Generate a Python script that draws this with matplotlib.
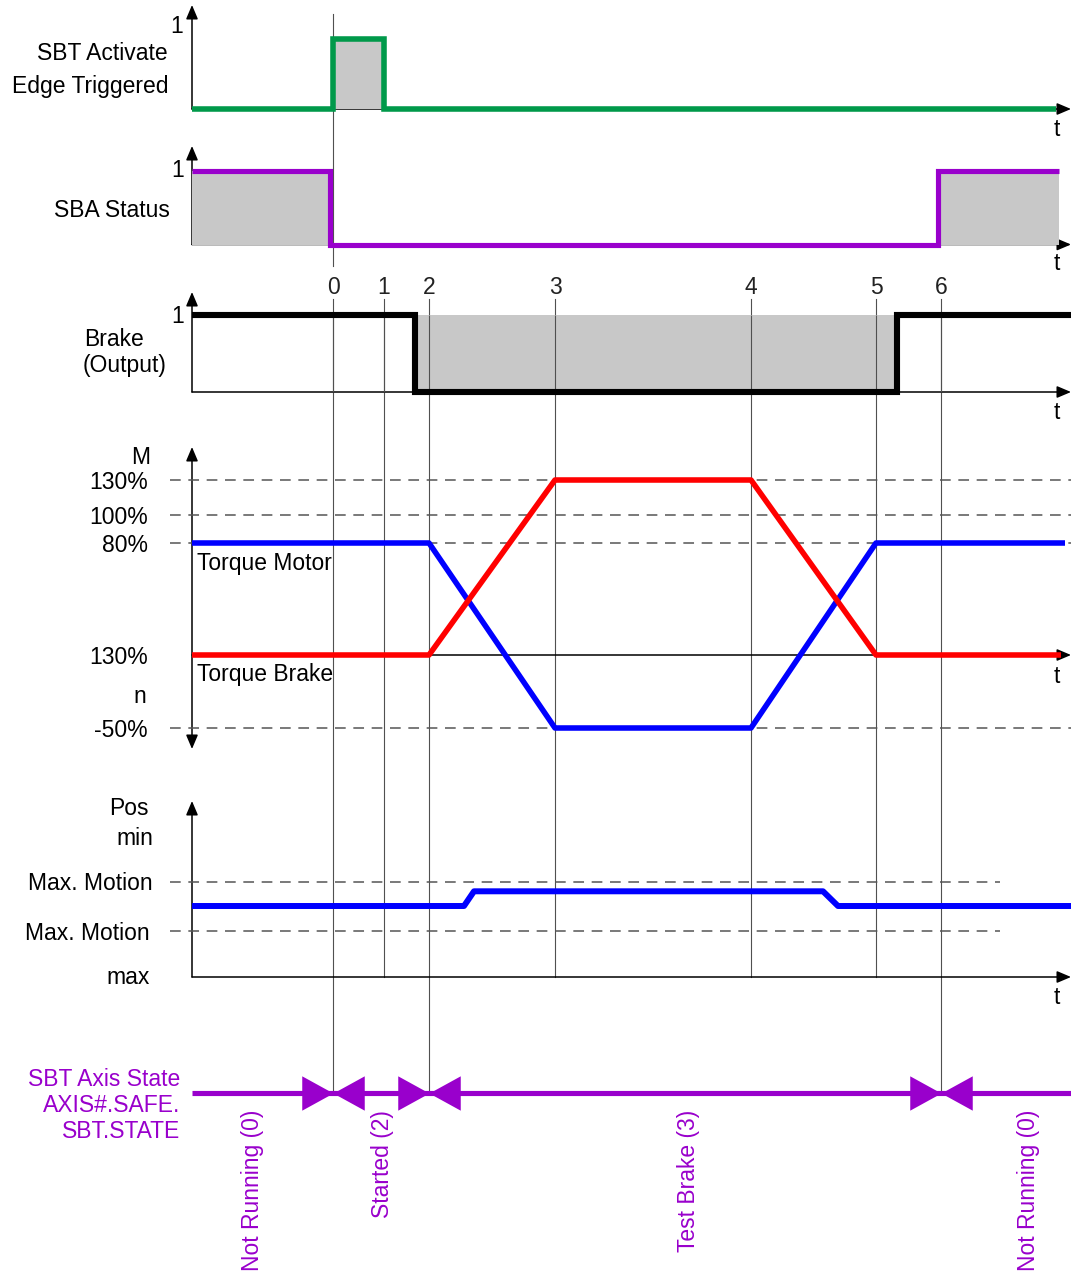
import numpy as np
import matplotlib
matplotlib.use('Agg')
import matplotlib.pyplot as plt

plt.rcParams['font.family'] = ['Liberation Sans', 'DejaVu Sans']

# ---------------- data ----------------
event_labels = ['0', '1', '2', '3', '4', '5', '6']
event_times = [14.1, 19.2, 23.7, 36.3, 55.9, 68.4, 74.9]

sbt_t = [0, 14.1, 19.2, 86.4]
sbt_v = [0, 1, 0, 0]

sba_t = [0, 13.8, 74.6, 86.7]
sba_v = [1, 0, 1, 1]

brake_t = [0, 22.3, 70.5, 87.9]
brake_v = [1, 0, 1, 1]

motor_t = [0, 23.7, 36.3, 55.9, 68.4, 87.3]
motor_v = [80, 80, -50, -50, 80, 80]
brake_tq_t = [0, 23.7, 36.3, 55.9, 68.4, 86.9]
brake_tq_v = [0, 0, 130, 130, 0, 0]
torque_levels = [130, 100, 80, -50]
torque_level_labels = ['130%', '100%', '80%', '-50%']
torque_zero_label = '130%'

pos_t = [0, 27.2, 28.2, 63.1, 64.6, 87.9]
pos_v = [0, 0, 0.6, 0.6, 0, 0]
pos_limits = [1, -1]
pos_limit_end = 80.8

state_bounds = [14.1, 23.7, 74.9]
state_names = ['Not Running (0)', 'Started (2)', 'Test Brake (3)', 'Not Running (0)']

# ---------------- style / layout ----------------
W, H = 1071, 1274
FS = 16.5
GREEN = '#00994a'
PURPLE = '#9900cc'
BLUE = '#0000ff'
RED = '#ff0000'
GRAY = '#c8c8c8'
EVC = '#505050'
XLIM = (-19.2, 87.9)
DASH = (0, (7.0, 5.0))
VA = 'center_baseline'

fig = plt.figure(figsize=(W / 100, H / 100), dpi=100)

bg = fig.add_axes([0, 0, 1, 1])
bg.set_xlim(*XLIM)
bg.set_ylim(H, 0)
bg.axis('off')


def panel(top, bottom, v0, p0, v1, p1):
    ax = fig.add_axes([0, 1 - bottom / H, 1, (bottom - top) / H])
    ax.set_xlim(*XLIM)
    s = (p0 - p1) / (v1 - v0)
    ax.set_ylim(v0 - (bottom - p0) / s, v0 + (p0 - top) / s)
    ax.axis('off')
    return ax


def axis_arrow(x0, y0, x1, y1, both=False):
    style = '<|-|>' if both else '-|>'
    bg.annotate('', xy=(x1, y1), xytext=(x0, y0),
                arrowprops=dict(arrowstyle=style + ',head_length=0.85,head_width=0.36',
                                mutation_scale=10, lw=1.1, color='black',
                                shrinkA=0, shrinkB=0), zorder=2)


def txt(x_px, y_px, s, ha='right', color='black', **kw):
    bg.text((x_px - 192) / 10, y_px, s, ha=ha, va=VA, fontsize=FS,
            color=color, **kw)


# ---------------- event lines ----------------
for t in event_times:
    end = 1093 if t in state_bounds else 977
    bg.plot([t, t], [299, end], color=EVC, lw=0.8, zorder=1)
bg.plot([event_times[0]] * 2, [14, 266], color=EVC, lw=0.8, zorder=1)
for t, lab in zip(event_times, event_labels):
    bg.text(t, 285, lab, ha='center', va=VA, fontsize=FS, color='#222222')

# ---------------- axes arrows ----------------
axis_arrow(0, 109, 0, 5)
axis_arrow(0, 109, XLIM[1], 109)
axis_arrow(0, 244.5, 0, 146)
axis_arrow(0, 244.5, XLIM[1], 244.5)
axis_arrow(0, 392, 0, 292)
axis_arrow(0, 392, XLIM[1], 392)
axis_arrow(0, 749, 0, 447, both=True)
axis_arrow(0, 655, XLIM[1], 655)
axis_arrow(0, 977, 0, 801)
axis_arrow(0, 977, XLIM[1], 977)
for y in [127, 261, 410, 674, 995]:
    txt(1057, y, 't', ha='center')

# ---------------- panel 1: SBT activate ----------------
ax1 = panel(0, 140, 0, 109, 1, 38.5)
ax1.fill_between(sbt_t, 0, sbt_v, step='post', color=GRAY, lw=0, zorder=1)
ax1.plot(sbt_t, sbt_v, drawstyle='steps-post', color=GREEN, lw=4.0,
         solid_joinstyle='miter', solid_capstyle='butt', zorder=3)
txt(183, 24, '1')
txt(168, 51, 'SBT Activate')
txt(168, 84, 'Edge Triggered')

# ---------------- panel 2: SBA status ----------------
ax2 = panel(140, 275, 0, 245, 1, 171)
ax2.fill_between(sba_t, 0, sba_v, step='post', color=GRAY, lw=0, zorder=1)
ax2.plot(sba_t, sba_v, drawstyle='steps-post', color=PURPLE, lw=3.7,
         solid_joinstyle='miter', solid_capstyle='butt', zorder=3)
txt(184, 168, '1')
txt(170, 208, 'SBA Status')

# ---------------- panel 3: brake output ----------------
ax3 = panel(275, 420, 0, 392, 1, 315)
ax3.fill_between(brake_t, brake_v, 1, step='post', color=GRAY, lw=0, zorder=1)
ax3.vlines(event_times, 0, 1, color=EVC, lw=0.8, zorder=2)
ax3.plot(brake_t, brake_v, drawstyle='steps-post', color='black', lw=4.4,
         solid_joinstyle='miter', solid_capstyle='butt', zorder=3)
txt(184, 314, '1')
txt(84, 337, 'Brake', ha='left')
txt(83, 363, '(Output)', ha='left')

# ---------------- panel 4: torque ----------------
tq_vals = np.array([-50.0, 0.0, 80.0, 100.0, 130.0])
tq_px = np.array([-73.0, 0.0, 112.0, 140.0, 175.0])


def _pl(x, xs, ys):
    x = np.asarray(x, dtype=float)
    y = np.interp(x, xs, ys)
    s0 = (ys[1] - ys[0]) / (xs[1] - xs[0])
    s1 = (ys[-1] - ys[-2]) / (xs[-1] - xs[-2])
    y = np.where(x < xs[0], ys[0] + (x - xs[0]) * s0, y)
    y = np.where(x > xs[-1], ys[-1] + (x - xs[-1]) * s1, y)
    return y


ax4 = fig.add_axes([0, 1 - 760 / H, 1, (760 - 430) / H])
ax4.set_xlim(*XLIM)
ax4.set_yscale('function', functions=(lambda v: _pl(v, tq_vals, tq_px),
                                      lambda h: _pl(h, tq_px, tq_vals)))
ax4.set_ylim(float(_pl(655 - 760, tq_px, tq_vals)), float(_pl(655 - 430, tq_px, tq_vals)))
ax4.axis('off')
ax4.hlines(torque_levels, -2.2, XLIM[1], color='#555555', lw=1.1, linestyles=[DASH], zorder=1)
ax4.plot(motor_t, motor_v, color=BLUE, lw=4.0, solid_capstyle='butt', zorder=3)
ax4.plot(brake_tq_t, brake_tq_v, color=RED, lw=4.0, solid_capstyle='butt', zorder=3)
for v, lab in zip(torque_levels, torque_level_labels):
    ax4.text(-4.4, v, lab, ha='right', va=VA, fontsize=FS)
ax4.text(-4.4, 0, torque_zero_label, ha='right', va=VA, fontsize=FS)
txt(141, 455, 'M', ha='center')
txt(140, 694, 'n', ha='center')
txt(197, 561, 'Torque Motor', ha='left')
txt(197, 672, 'Torque Brake', ha='left')

# ---------------- panel 5: position ----------------
ax5 = panel(790, 1010, 0, 906, 1, 881.5)
ax5.hlines(pos_limits, -2.2, pos_limit_end, color='#555555', lw=1.1, linestyles=[DASH], zorder=1)
ax5.plot(pos_t, pos_v, color=BLUE, lw=4.3, solid_capstyle='butt', zorder=3)
txt(129, 806, 'Pos', ha='center')
txt(153, 836, 'min')
ax5.text(-3.9, pos_limits[0], 'Max. Motion', ha='right', va=VA, fontsize=FS)
ax5.text(-4.2, pos_limits[1], 'Max. Motion', ha='right', va=VA, fontsize=FS)
txt(150, 975, 'max')

# ---------------- panel 6: state ----------------
ax6 = panel(1040, 1274, 0, 1093, 1, 1043)
ax6.plot([0, XLIM[1]], [0, 0], color=PURPLE, lw=3.7, solid_capstyle='butt', zorder=3)
tip_right = [(0, 0), (-1, 0.55), (-1, -0.55), (0, 0)]
tip_left = [(0, 0), (1, 0.55), (1, -0.55), (0, 0)]
for b in state_bounds:
    ax6.plot([b], [0], marker=tip_right, markersize=45, color=PURPLE,
             markeredgewidth=0, linestyle='none', zorder=4)
    ax6.plot([b], [0], marker=tip_left, markersize=45, color=PURPLE,
             markeredgewidth=0, linestyle='none', zorder=4)
txt(180, 1077, 'SBT Axis State', color=PURPLE)
txt(180, 1103, 'AXIS#.SAFE.', color=PURPLE)
txt(180, 1129, 'SBT.STATE', color=PURPLE)
state_label_x = [6.0, 19.0, 49.6, 83.7]
for x, name in zip(state_label_x, state_names):
    bg.text(x, 1110, name, rotation=90, ha='center', va='top', fontsize=FS, color=PURPLE)

fig.savefig('out.png', dpi=100)
